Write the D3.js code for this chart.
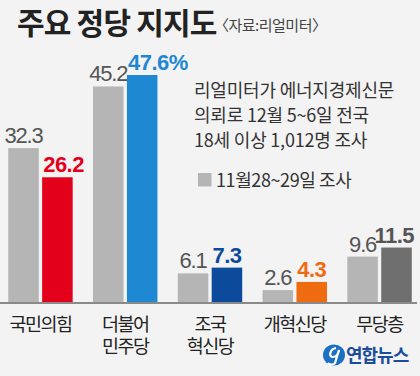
<!DOCTYPE html>
<html>
<head>
<meta charset="utf-8">
<script src="https://cdn.jsdelivr.net/npm/d3@7"></script>
<style>
  html, body { margin: 0; padding: 0; background: #f3f3f3; }
  svg { display: block; font-family: "Noto Sans CJK KR", "Noto Sans", sans-serif; }
  .num { font-family: "Liberation Sans", Arial, sans-serif; }
</style>
</head>
<body>
<svg id="chart" width="420" height="376"></svg>
<script>
// data
var parties = ['국민의힘', '더불어 민주당', '조국 혁신당', '개혁신당', '무당층'];
var prevValues = [32.3, 45.2, 6.1, 2.6, 9.6];   // 11월28~29일 조사
var currValues = [26.2, 47.6, 7.3, 4.3, 11.5];  // 12월 5~6일
var currColors = ['#e3001b', '#1f88d2', '#0c4a9c', '#ef6b10', '#6f6f6f'];
var currLabelColors = ['#e3001b', '#1f88d2', '#0c4a9c', '#ef6b10', '#555555'];
var noteLines = ['리얼미터가 에너지경제신문', '의뢰로 12월 5~6일 전국', '18세 이상 1,012명 조사'];
var legendLabel = '11월28~29일 조사';

var svg = d3.select('#chart');
var w = 420, h = 376;
var baseY = 302.5;

// title
svg.append('text').attr('x', 17).attr('y', 34)
  .attr('font-size', 30).attr('font-weight', 700).attr('fill', '#222')
  .attr('letter-spacing', -0.8)
  .text('주요 정당 지지도');
svg.append('text').attr('x', 214).attr('y', 31)
  .attr('font-size', 15).attr('fill', '#444').attr('letter-spacing', -0.5)
  .text('〈자료:리얼미터〉');

// scales
var x0 = d3.scaleBand().domain(parties).range([4, 416]).paddingInner(0.24).paddingOuter(0.05);
var x1 = d3.scaleBand().domain(['prev', 'curr']).range([0, x0.bandwidth()]).paddingInner(0.1);
var y = d3.scaleLinear().domain([0, 47.6]).range([baseY, 75]);

var groups = svg.append('g').selectAll('g').data(parties).enter().append('g')
  .attr('transform', function(d) { return 'translate(' + x0(d) + ',0)'; });

groups.each(function(d, i) {
  var g = d3.select(this);
  var gx = x0(d);
  var bw = x1.bandwidth();
  // previous
  g.append('rect').attr('x', x1('prev')).attr('width', bw)
    .attr('y', y(prevValues[i])).attr('height', baseY - y(prevValues[i]))
    .attr('fill', '#b5b5b5');
  g.append('text').attr('class', 'num')
    .attr('x', x1('prev') + bw / 2).attr('y', y(prevValues[i]) - 5)
    .attr('text-anchor', 'middle').attr('font-size', 22).attr('letter-spacing', -1.2)
    .attr('fill', '#555').text(prevValues[i]);
  // current
  g.append('rect').attr('x', x1('curr')).attr('width', bw)
    .attr('y', y(currValues[i])).attr('height', baseY - y(currValues[i]))
    .attr('fill', currColors[i]);
  var t = g.append('text').attr('class', 'num')
    .attr('y', y(currValues[i]) - 5)
    .attr('font-size', 22).attr('font-weight', 700).attr('letter-spacing', -0.5)
    .attr('fill', currLabelColors[i]).text(currValues[i] + (i === 1 ? '%' : ''));
  var tw = t.node().getComputedTextLength();
  if (tw > bw) {
    var sx = Math.min(x1('curr') + 1, w - 6 - gx - tw);
    t.attr('x', sx).attr('text-anchor', 'start');
  } else {
    t.attr('x', x1('curr') + bw / 2).attr('text-anchor', 'middle');
  }
  // category label (one text, lines as tspans)
  var lab = g.append('text').attr('y', 331)
    .attr('text-anchor', 'middle').attr('font-size', 18.5).attr('letter-spacing', -1.5)
    .attr('fill', '#222');
  d.split(' ').forEach(function(line, k) {
    lab.append('tspan').attr('x', x0.bandwidth() / 2).attr('dy', k === 0 ? 0 : 22).text(line);
  });
});

// baseline
svg.append('line').attr('x1', 0).attr('x2', 417).attr('y1', baseY + 0.5).attr('y2', baseY + 0.5)
  .attr('stroke', '#8a8a8a').attr('stroke-width', 1.8);

// note
svg.append('g').selectAll('text').data(noteLines).enter().append('text')
  .attr('x', 194).attr('y', function(d, i) { return 97 + i * 25; })
  .attr('font-size', 18).attr('letter-spacing', -0.2).attr('fill', '#333')
  .text(function(d) { return d; });

// legend
svg.append('rect').attr('x', 198).attr('y', 173).attr('width', 13.5).attr('height', 13.5).attr('fill', '#b5b5b5');
svg.append('text').attr('x', 216).attr('y', 187)
  .attr('font-size', 18).attr('letter-spacing', -0.4).attr('fill', '#333')
  .text(legendLabel);

// logo
var logo = svg.append('g').attr('transform', 'translate(334,355)');
logo.append('ellipse').attr('rx', 11).attr('ry', 10.5).attr('fill', '#1d6fc4');
logo.append('path').attr('d', 'M2,-7 C-4,-6 -6,2 -1,2 C3,2 5,-3 5,-5 L1,8 C0,10 -4,10 -6,8')
  .attr('fill', 'none').attr('stroke', '#fff').attr('stroke-width', 2.2);
svg.append('text').attr('x', 346).attr('y', 362)
  .attr('font-size', 18).attr('font-weight', 700).attr('letter-spacing', -1)
  .attr('fill', '#1b4d9c').text('연합뉴스');
</script>
</body>
</html>
